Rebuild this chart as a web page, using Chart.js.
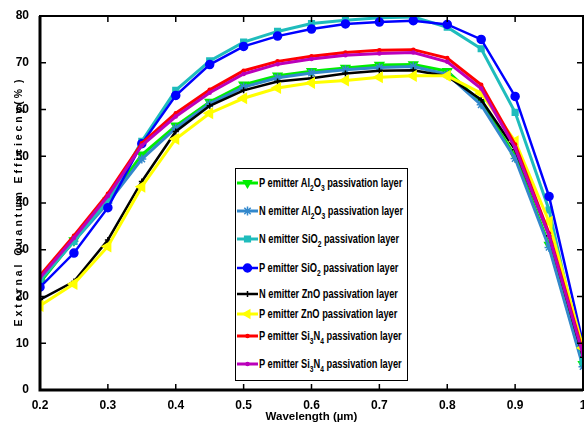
<!DOCTYPE html>
<html>
<head>
<meta charset="utf-8">
<script src="https://cdn.jsdelivr.net/npm/chart.js@4.4.1/dist/chart.umd.min.js"></script>
<style>
  html, body { margin: 0; padding: 0; background: #fff; overflow: hidden; }
  #wrap { position: relative; width: 584px; height: 424px; }
  #legend {
    position: absolute; left: 235px; top: 168px; width: 171px; height: 211px;
    border: 1.5px solid #000; background: #fff;
    font: bold 12.5px 'Liberation Sans', Arial, sans-serif;
  }
  .item { position: absolute; left: 1px; height: 14px; display: flex; align-items: center; white-space: nowrap; }
  .item canvas { margin-right: 1px; flex: none; }
  .item span { display: inline-block; transform-origin: 0 50%; }
  sub { font-size: 9px; vertical-align: -4px; line-height: 0; }
</style>
</head>
<body>
<div id="wrap">
  <canvas id="eqe"></canvas>
  <div id="legend"></div>
</div>
<script>
const FONT = "'Liberation Sans', Arial, sans-serif";

// wavelength in um
const wavelength = [0.2, 0.25, 0.3, 0.35, 0.4, 0.45, 0.5, 0.55, 0.6, 0.65, 0.7, 0.75, 0.8, 0.85, 0.9, 0.95, 1.0];

// EQE (%) per device
const pAl2O3  = [23, 32, 40.5, 50.3, 56.5, 61.6, 65.3, 67.2, 68.2, 68.9, 69.5, 69.6, 68.2, 61.5, 50, 31, 5.5];
const nAl2O3  = [23.5, 31.8, 40, 49.4, 56, 61.2, 64.8, 66.8, 67.8, 68.5, 69, 69.2, 67.5, 61, 49.5, 30.5, 5];
const nSiO2   = [23.5, 31.8, 40.5, 53.2, 64.1, 70.4, 74.4, 76.7, 78.4, 79.1, 79.6, 79.8, 77.6, 73, 59.4, 38.5, 6];
const pSiO2   = [22, 29.3, 39, 52.7, 63, 69.6, 73.5, 75.7, 77.2, 78.3, 78.7, 79, 78.2, 75, 62.8, 41.4, 10];
const nZnO    = [19.3, 23.2, 32.1, 44.6, 55.3, 60.8, 64.1, 66, 66.7, 67.7, 68.3, 68.4, 67.1, 62.1, 51.4, 33, 7];
const pZnO    = [18, 22.7, 30.7, 43.5, 53.7, 59.2, 62.4, 64.6, 65.7, 66.2, 66.9, 67.2, 67.2, 63.5, 53.2, 36, 9];
const pSi3N4a = [24.5, 33, 42, 52.8, 59.2, 64.2, 68.3, 70.3, 71.4, 72.2, 72.7, 72.8, 71, 65.3, 52.5, 33.5, 8];
const pSi3N4b = [24, 32.5, 41.5, 52.3, 58.5, 63.6, 67.6, 69.7, 70.8, 71.6, 72, 72.2, 70.2, 64.5, 51.8, 33, 7.5];

const seriesNames = [
  'P emitter Al₂O₃ passivation layer',
  'N emitter Al₂O₃ passivation layer',
  'N emitter SiO₂ passivation layer',
  'P emitter SiO₂ passivation layer',
  'N emitter ZnO passivation layer',
  'P emitter ZnO passivation layer',
  'P emitter Si₃N₄ passivation layer',
  'P emitter Si₃N₄ passivation layer'
];

const xTicks = [0.2, 0.3, 0.4, 0.5, 0.6, 0.7, 0.8, 0.9, 1];
const yTicks = [0, 10, 20, 30, 40, 50, 60, 70, 80];

const styles = [
  { color: '#00ee00', width: 3, point: 'triangle', r: 5, rot: 180 },
  { color: '#3388cc', width: 3, point: 'star', r: 4.5, rot: 0 },
  { color: '#1fbcbc', width: 3, point: 'rect', r: 4, rot: 0 },
  { color: '#0000ff', width: 2.5, point: 'circle', r: 4, rot: 0 },
  { color: '#000000', width: 2.5, point: 'cross', r: 3, rot: 0 },
  { color: '#ffff00', width: 3, point: 'triangle', r: 5.5, rot: -90 },
  { color: '#ff0000', width: 3, point: 'circle', r: 1.5, rot: 0 },
  { color: '#bb00bb', width: 3, point: 'circle', r: 1.5, rot: 0 }
];

const values = [pAl2O3, nAl2O3, nSiO2, pSiO2, nZnO, pZnO, pSi3N4a, pSi3N4b];

const datasets = values.map((vals, i) => ({
  label: seriesNames[i],
  data: vals.map((v, k) => ({ x: wavelength[k], y: v })),
  borderColor: styles[i].color,
  backgroundColor: styles[i].color,
  borderWidth: styles[i].width,
  pointStyle: styles[i].point,
  pointRadius: styles[i].r,
  pointRotation: styles[i].rot,
  pointBackgroundColor: styles[i].color,
  pointBorderColor: styles[i].color,
  pointBorderWidth: 1.5,
  tension: 0,
  order: 7 - i
}));

// MATLAB-like box with inward ticks
const boxTicks = {
  id: 'boxTicks',
  afterDraw(chart) {
    const { ctx, chartArea: a, scales: { x, y } } = chart;
    ctx.save();
    ctx.strokeStyle = '#000';
    ctx.lineWidth = 1.5;
    ctx.beginPath();
    xTicks.slice(1, -1).forEach(v => {
      const px = x.getPixelForValue(v);
      ctx.moveTo(px, a.bottom); ctx.lineTo(px, a.bottom - 6);
      ctx.moveTo(px, a.top); ctx.lineTo(px, a.top + 6);
    });
    yTicks.slice(1, -1).forEach(v => {
      const py = y.getPixelForValue(v);
      ctx.moveTo(a.left, py); ctx.lineTo(a.left + 6, py);
      ctx.moveTo(a.right, py); ctx.lineTo(a.right - 6, py);
    });
    ctx.stroke();
    ctx.lineWidth = 2;
    ctx.strokeRect(a.left, a.top, a.right - a.left, a.bottom - a.top);
    ctx.lineWidth = 3;
    ctx.beginPath();
    ctx.moveTo(a.left, a.top); ctx.lineTo(a.left, a.bottom); ctx.lineTo(a.right, a.bottom);
    ctx.stroke();
    ctx.restore();
  }
};

const chart = new Chart(document.getElementById('eqe'), {
  type: 'line',
  data: { datasets },
  options: {
    responsive: true,
    maintainAspectRatio: false,
    animation: false,
    layout: { padding: { top: 16, right: 0, left: 0, bottom: 0 } },
    plugins: { legend: { display: false }, tooltip: { enabled: false } },
    scales: {
      x: {
        type: 'linear', min: 0.2, max: 1,
        afterBuildTicks: s => { s.ticks = xTicks.map(v => ({ value: v })); },
        afterFit: s => { s.height = 34; },
        grid: { display: false },
        border: { display: false },
        ticks: {
          color: '#000', padding: 0,
          font: { family: FONT, size: 12, weight: 'bold' },
          callback: v => (v === 1 ? '1' : v.toFixed(1))
        },
        title: {
          display: true, text: 'Wavelength (µm)', color: '#000', padding: { top: -7, bottom: 0 },
          font: { family: FONT, size: 11.5, weight: 'bold' }
        }
      },
      y: {
        min: 0, max: 80,
        afterBuildTicks: s => { s.ticks = yTicks.map(v => ({ value: v })); },
        afterFit: s => { s.width = 40; },
        grid: { display: false },
        border: { display: false },
        ticks: {
          color: '#000', padding: 3,
          font: { family: FONT, size: 12, weight: 'bold' }
        },
        title: {
          display: true, color: '#000', padding: { top: 13, bottom: 0 },
          text: 'E x t e r n a l   Q u a n t u m   E f f i c i e c n y ( %  )',
          font: { family: FONT, size: 10.5, weight: 'bold' }
        }
      }
    }
  },
  plugins: [boxTicks]
});

// push the plot's right edge to the window edge (the "1" label is cut in half there)
const wrap = document.getElementById('wrap');
wrap.style.width = (584 + 583 - chart.chartArea.right) + 'px';
chart.resize();

// legend box built from the datasets
const legendTops = [7, 35, 63, 92, 118, 138, 160, 188];
const legend = document.getElementById('legend');
const spans = [];
datasets.forEach((ds, i) => {
  const row = document.createElement('div');
  row.className = 'item';
  row.style.top = legendTops[i] + 'px';
  const c = document.createElement('canvas');
  c.width = 21; c.height = 12;
  const g = c.getContext('2d');
  g.strokeStyle = ds.borderColor; g.lineWidth = ds.borderWidth;
  g.beginPath(); g.moveTo(0, 6); g.lineTo(21, 6); g.stroke();
  g.fillStyle = ds.pointBackgroundColor; g.strokeStyle = ds.pointBorderColor; g.lineWidth = 1.5;
  Chart.helpers.drawPoint(g, {
    pointStyle: ds.pointStyle, radius: Math.min(ds.pointRadius, 4.5),
    rotation: ds.pointRotation, borderWidth: 1.5
  }, 10.5, 6);
  const span = document.createElement('span');
  span.innerHTML = ds.label.replace(/[₂₃₄]/g, m => '<sub>' + ('₂₃₄'.indexOf(m) + 2) + '</sub>');
  row.appendChild(c);
  row.appendChild(span);
  legend.appendChild(row);
  spans.push(span);
});
// narrow the legend text so the first entry is ~143px wide, like the original
const k = 143 / spans[0].offsetWidth;
spans.forEach(s => { s.style.transform = 'scaleX(' + k + ')'; });
</script>
</body>
</html>
